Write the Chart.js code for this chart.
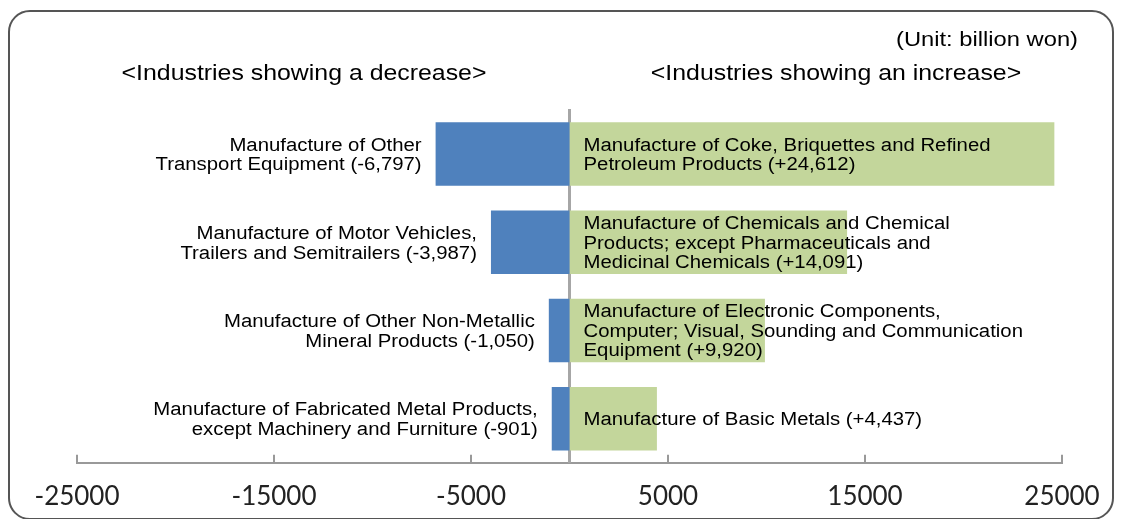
<!DOCTYPE html>
<html>
<head>
<meta charset="utf-8">
<script src="https://cdn.jsdelivr.net/npm/chart.js@4.4.1/dist/chart.umd.min.js"></script>
<style>
  html, body { margin: 0; padding: 0; background: #fff; }
  #wrap  { position: relative; width: 1121px; height: 519px; overflow: hidden; }
  #frame { position: absolute; left: 8px; top: 10px; width: 1106px; height: 510px;
           border: 2px solid #555; border-radius: 22px; box-sizing: border-box; }
  #chart { position: absolute; left: 0; top: 0; }
</style>
</head>
<body>
<div id="wrap">
  <div id="frame"></div>
  <canvas id="chart" width="1121" height="519"></canvas>
</div>
<script>
/* ---- Data ---- */
const categories = [
  'Other Transport Equipment / Coke and Petroleum',
  'Motor Vehicles / Chemicals',
  'Non-Metallic Mineral / Electronic Components',
  'Fabricated Metal / Basic Metals'
];
const decreaseValues = [-6797, -3987, -1050, -901];
const increaseValues = [24612, 14091, 9920, 4437];

const decreaseLabels = [
  ['Manufacture of Other', 'Transport Equipment (-6,797)'],
  ['Manufacture of Motor Vehicles,', 'Trailers and Semitrailers (-3,987)'],
  ['Manufacture of Other Non-Metallic', 'Mineral Products (-1,050)'],
  ['Manufacture of Fabricated Metal Products,', 'except Machinery and Furniture (-901)']
];
const increaseLabels = [
  ['Manufacture of Coke, Briquettes and Refined', 'Petroleum Products (+24,612)'],
  ['Manufacture of Chemicals and Chemical', 'Products; except Pharmaceuticals and', 'Medicinal Chemicals (+14,091)'],
  ['Manufacture of Electronic Components,', 'Computer; Visual, Sounding and Communication', 'Equipment (+9,920)'],
  ['Manufacture of Basic Metals (+4,437)']
];

const tickValues = [-25000, -15000, -5000, 5000, 15000, 25000];
const tickLabels = ['-25000', '-15000', '-5000', '5000', '15000', '25000'];

const headerDecrease = '<Industries showing a decrease>';
const headerIncrease = '<Industries showing an increase>';
const unitText       = '(Unit: billion won)';

/* ---- Text helper (reference text is slightly wide) ---- */
const STRETCH = 1.13;
const FONT_FAMILY = '"Liberation Sans", Arial, sans-serif';

function _drawLines(ctx, lines, x, yCenter, align, size, lineH) {
  ctx.save();
  ctx.font = size + 'px ' + FONT_FAMILY;
  ctx.fillStyle = '#000';
  ctx.textAlign = align;
  ctx.textBaseline = 'alphabetic';
  lines.forEach((line, i) => {
    const y = yCenter + size * 0.36 + (i - (lines.length - 1) / 2) * lineH;
    ctx.save();
    ctx.translate(x, y);
    ctx.scale(STRETCH, 1);
    ctx.fillText(line, 0, 0);
    ctx.restore();
  });
  ctx.restore();
}

/* ---- Labels beside bars + headers ---- */
const labelPlugin = {
  id: 'barLabels',
  afterDraw(chart) {
    const ctx = chart.ctx;
    const decMeta = chart.getDatasetMeta(0);
    const incMeta = chart.getDatasetMeta(1);

    decMeta.data.forEach((bar, i) => {
      _drawLines(ctx, decreaseLabels[i], bar.x - 14, bar.y, 'right', 18, 19.5);
    });
    incMeta.data.forEach((bar, i) => {
      _drawLines(ctx, increaseLabels[i], bar.base + 14, bar.y, 'left', 18, 19.5);
    });

    _drawLines(ctx, [headerDecrease], 304, 72, 'center', 22, 22);
    _drawLines(ctx, [headerIncrease], 836, 72, 'center', 22, 22);
    _drawLines(ctx, [unitText], 1078, 38, 'right', 21, 21);
  }
};

/* ---- Chart ---- */
new Chart(document.getElementById('chart'), {
  type: 'bar',
  data: {
    labels: categories,
    datasets: [
      { data: decreaseValues, backgroundColor: '#4f81bd' },
      { data: increaseValues, backgroundColor: '#c3d69b' }
    ]
  },
  options: {
    indexAxis: 'y',
    responsive: false,
    animation: false,
    layout: { padding: { top: 110, left: 77, right: 59, bottom: -19 } },
    datasets: { bar: { barPercentage: 0.72, categoryPercentage: 1 } },
    plugins: {
      legend:  { display: false },
      tooltip: { enabled: false }
    },
    scales: {
      x: {
        type: 'linear',
        min: -25000,
        max: 25000,
        stacked: true,
        afterBuildTicks: scale => { scale.ticks = tickValues.map(v => ({ value: v })); },
        // end labels may overhang; let the layout padding decide the plot width
        afterFit: scale => { scale.paddingLeft = 0; scale.paddingRight = 0; },
        grid:   { drawOnChartArea: false, drawTicks: true, tickLength: -8, color: '#999', lineWidth: 2 },
        border: { color: '#999', width: 2 },
        ticks:  {
          font: { family: 'Lato', size: 26 }, color: '#222', padding: 26,
          callback: (value, index) => tickLabels[index]
        }
      },
      y: {
        stacked: true,
        position: { x: 0 },
        z: 1,
        grid:   { display: false },
        ticks:  { display: false },
        border: { color: '#a6a6a6', width: 3 }
      }
    }
  },
  plugins: [labelPlugin]
});
</script>
</body>
</html>
